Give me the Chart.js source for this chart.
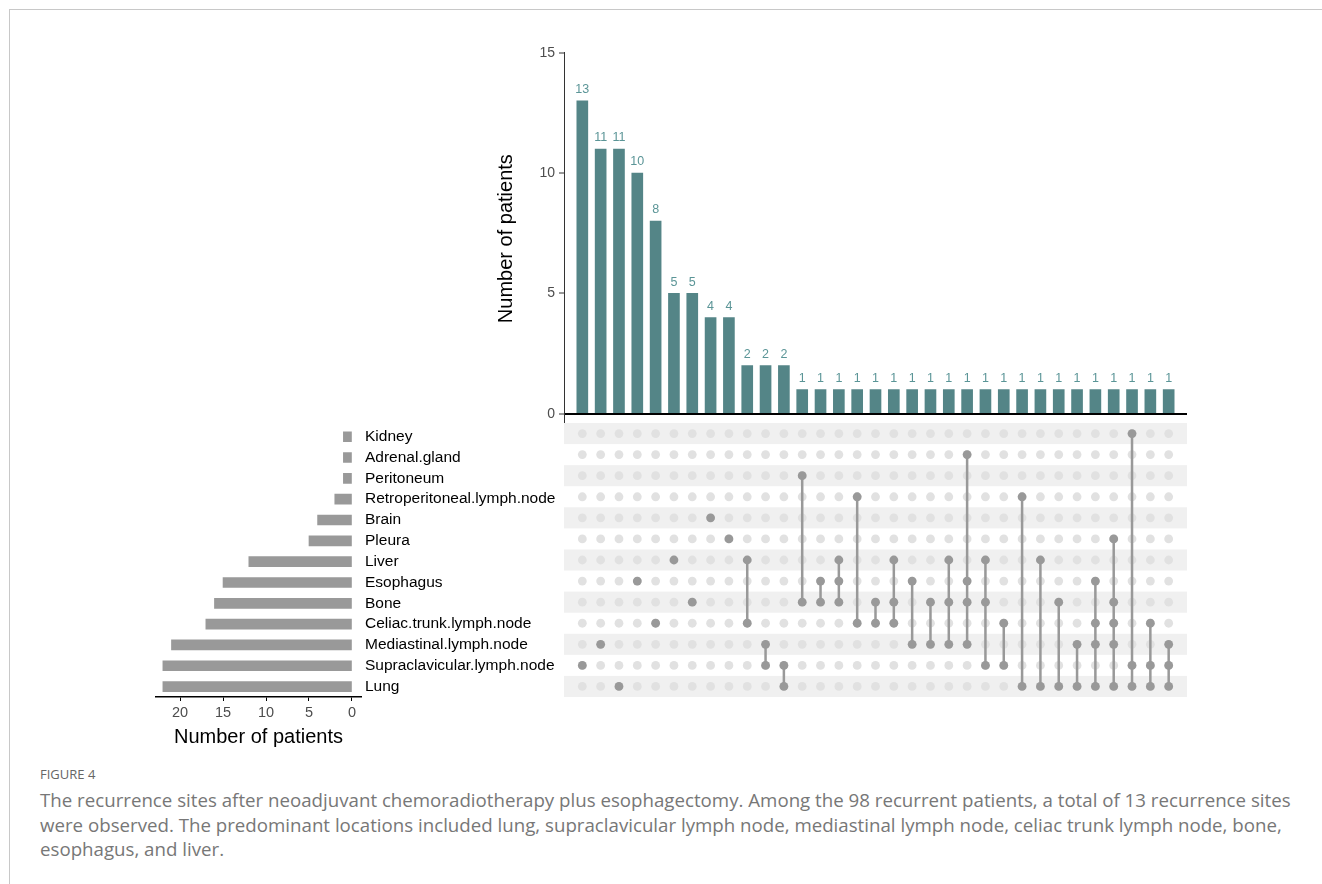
<!DOCTYPE html>
<html>
<head>
<meta charset="utf-8">
<script src="https://cdn.jsdelivr.net/npm/chart.js@4.4.1/dist/chart.umd.min.js"></script>
<style>
  body { margin: 0; background: #fff; width: 1322px; height: 884px; overflow: hidden; position: relative; font-family: "Liberation Sans", Arial, sans-serif; }
  .frame { position: absolute; left: 9px; top: 9px; width: 1400px; height: 1000px; border-left: 1px solid #c8c8c8; border-top: 1px solid #c8c8c8; }
  .box { position: absolute; }
  #figlabel { position: absolute; left: 40px; top: 765px; font-family: "Open Sans", Lato, sans-serif; font-size: 13px; color: #666; }
  #caption { position: absolute; left: 40px; top: 788px; font-family: "Open Sans", Lato, sans-serif; font-size: 18.7px; line-height: 24.5px; color: #777; white-space: nowrap; }
</style>
</head>
<body>
<div class="frame"></div>
<div class="box" style="left:490px;top:20px"><canvas id="topChart" width="700" height="417"></canvas></div>
<div class="box" style="left:564px;top:423px"><canvas id="matrixChart" width="623" height="274"></canvas></div>
<div class="box" style="left:150px;top:413px"><canvas id="setChart" width="410" height="340"></canvas></div>
<div id="figlabel">FIGURE 4</div>
<div id="caption">
  <div>The recurrence sites after neoadjuvant chemoradiotherapy plus esophagectomy. Among the 98 recurrent patients, a total of 13 recurrence sites</div>
  <div>were observed. The predominant locations included lung, supraclavicular lymph node, mediastinal lymph node, celiac trunk lymph node, bone,</div>
  <div>esophagus, and liver.</div>
</div>
<script>
// sets, top to bottom as in the matrix
const setNames = ['Kidney', 'Adrenal.gland', 'Peritoneum', 'Retroperitoneal.lymph.node', 'Brain', 'Pleura', 'Liver',
    'Esophagus', 'Bone', 'Celiac.trunk.lymph.node', 'Mediastinal.lymph.node', 'Supraclavicular.lymph.node', 'Lung'];
const setSizes = [1, 1, 1, 2, 4, 5, 12, 15, 16, 17, 21, 22, 22];

// intersections, left to right
const comboCounts = [13, 11, 11, 10, 8, 5, 5, 4, 4, 2, 2, 2,
    1, 1, 1, 1, 1, 1, 1, 1, 1, 1, 1, 1, 1, 1, 1, 1, 1, 1, 1, 1, 1];
const comboSets = [
    ['Supraclavicular.lymph.node'],
    ['Mediastinal.lymph.node'],
    ['Lung'],
    ['Esophagus'],
    ['Celiac.trunk.lymph.node'],
    ['Liver'],
    ['Bone'],
    ['Brain'],
    ['Pleura'],
    ['Liver', 'Celiac.trunk.lymph.node'],
    ['Mediastinal.lymph.node', 'Supraclavicular.lymph.node'],
    ['Supraclavicular.lymph.node', 'Lung'],
    ['Peritoneum', 'Bone'],
    ['Esophagus', 'Bone'],
    ['Liver', 'Esophagus', 'Bone'],
    ['Retroperitoneal.lymph.node', 'Celiac.trunk.lymph.node'],
    ['Bone', 'Celiac.trunk.lymph.node'],
    ['Liver', 'Bone', 'Celiac.trunk.lymph.node'],
    ['Esophagus', 'Mediastinal.lymph.node'],
    ['Bone', 'Mediastinal.lymph.node'],
    ['Liver', 'Bone', 'Mediastinal.lymph.node'],
    ['Adrenal.gland', 'Esophagus', 'Bone', 'Mediastinal.lymph.node'],
    ['Liver', 'Bone', 'Supraclavicular.lymph.node'],
    ['Celiac.trunk.lymph.node', 'Supraclavicular.lymph.node'],
    ['Retroperitoneal.lymph.node', 'Lung'],
    ['Liver', 'Lung'],
    ['Bone', 'Lung'],
    ['Mediastinal.lymph.node', 'Lung'],
    ['Esophagus', 'Celiac.trunk.lymph.node', 'Mediastinal.lymph.node', 'Lung'],
    ['Pleura', 'Bone', 'Celiac.trunk.lymph.node', 'Mediastinal.lymph.node', 'Lung'],
    ['Kidney', 'Supraclavicular.lymph.node', 'Lung'],
    ['Celiac.trunk.lymph.node', 'Supraclavicular.lymph.node', 'Lung'],
    ['Mediastinal.lymph.node', 'Supraclavicular.lymph.node', 'Lung']
];

const topTicks = [0, 5, 10, 15];
const setTicks = [0, 5, 10, 15, 20];

const TEAL = '#548587';
const GREY = '#999999';
const TICK_GREY = '#4d4d4d';

Chart.defaults.font.family = '"Liberation Sans", Arial, sans-serif';
Chart.defaults.animation = false;
Chart.defaults.events = [];
Chart.defaults.plugins.legend.display = false;
Chart.defaults.plugins.tooltip.enabled = false;

// numbers above the intersection bars
const barLabels = {
    id: 'barLabels',
    afterDatasetsDraw(chart) {
        const ctx = chart.ctx;
        const meta = chart.getDatasetMeta(0);
        ctx.save();
        ctx.fillStyle = '#5b9597';
        ctx.font = '12.5px "Liberation Sans", Arial, sans-serif';
        ctx.textAlign = 'center';
        ctx.textBaseline = 'bottom';
        meta.data.forEach((el, i) => {
            ctx.fillText(comboCounts[i], el.x, el.y - 5);
        });
        ctx.restore();
    }
};

// alternating row bands behind the dot matrix
const rowBands = {
    id: 'rowBands',
    beforeDatasetsDraw(chart) {
        const { ctx, chartArea, scales } = chart;
        ctx.save();
        ctx.fillStyle = '#f0f0f0';
        setNames.forEach((name, r) => {
            if (r % 2 !== 0) return;
            const y0 = scales.y.getPixelForValue(r - 0.5);
            const y1 = scales.y.getPixelForValue(r + 0.5);
            ctx.fillRect(chartArea.left, y0, chartArea.right - chartArea.left, y1 - y0);
        });
        ctx.restore();
    }
};

new Chart(document.getElementById('topChart'), {
    type: 'bar',
    data: {
        datasets: [{
            data: comboCounts.map((v, i) => ({ x: i, y: v })),
            backgroundColor: TEAL,
            barThickness: 11
        }]
    },
    options: {
        responsive: false,
        devicePixelRatio: 1,
        layout: { autoPadding: false, padding: { top: 32.7, right: 3, left: 0, bottom: 0 } },
        scales: {
            x: { type: 'linear', min: -1, max: 33, offset: false, display: false },
            y: {
                min: -0.45,
                max: 15,
                afterBuildTicks: s => { s.ticks = topTicks.map(v => ({ value: v })); },
                afterFit: s => { s.width = 74; },
                ticks: { color: TICK_GREY, font: { size: 14 }, padding: 4 },
                grid: {
                    color: c => (c.tick && c.tick.value === 0) ? '#000' : 'rgba(0,0,0,0)',
                    lineWidth: 2,
                    tickColor: '#333',
                    tickWidth: 1,
                    tickLength: 5
                },
                border: { color: '#333', width: 1 },
                title: { display: true, text: 'Number of patients', color: '#000', font: { size: 20 } }
            }
        }
    },
    plugins: [barLabels]
});

// dot matrix
const allDots = [];
const onDots = [];
const links = [];
comboSets.forEach((sets, i) => {
    setNames.forEach((name, r) => allDots.push({ x: i, y: r }));
    const rows = sets.map(s => setNames.indexOf(s));
    rows.forEach(r => onDots.push({ x: i, y: r }));
    if (rows.length > 1) {
        links.push({ x: i, y: Math.min(...rows) });
        links.push({ x: i, y: Math.max(...rows) });
        links.push({ x: i, y: null });
    }
});

new Chart(document.getElementById('matrixChart'), {
    type: 'scatter',
    data: {
        datasets: [
            { data: onDots, backgroundColor: GREY, borderWidth: 0, pointRadius: 4.4, order: 1 },
            { data: links, showLine: true, spanGaps: false, borderColor: GREY, borderWidth: 2.5, pointRadius: 0, order: 2 },
            { data: allDots, backgroundColor: '#e1e1e1', borderWidth: 0, pointRadius: 4.4, order: 3 }
        ]
    },
    options: {
        responsive: false,
        devicePixelRatio: 1,
        layout: { autoPadding: false, padding: 0 },
        scales: {
            x: { type: 'linear', min: -1, max: 33, display: false },
            y: { type: 'linear', min: -0.5, max: 12.5, reverse: true, display: false }
        }
    },
    plugins: [rowBands]
});

// set size bars
new Chart(document.getElementById('setChart'), {
    type: 'bar',
    data: {
        labels: setNames,
        datasets: [{
            data: setSizes,
            backgroundColor: GREY,
            barThickness: 10
        }]
    },
    options: {
        indexAxis: 'y',
        responsive: false,
        devicePixelRatio: 1,
        layout: { autoPadding: false, padding: { left: 6, top: 10, right: 0, bottom: 0 } },
        scales: {
            y: {
                type: 'category',
                position: 'right',
                afterFit: s => { s.width = 199; },
                grid: { display: false, drawTicks: false },
                border: { display: false },
                ticks: { color: '#000', font: { size: 15.5 }, padding: 4, autoSkip: false }
            },
            x: {
                type: 'linear',
                reverse: true,
                min: -1.05,
                max: 22.8,
                afterBuildTicks: s => { s.ticks = setTicks.map(v => ({ value: v })); },
                afterFit: s => { s.height = 56; },
                ticks: { color: TICK_GREY, font: { size: 14.5 }, padding: 3 },
                grid: { drawOnChartArea: false, tickLength: 4, tickColor: '#000' },
                border: { color: '#000', width: 1.5 },
                title: { display: true, text: 'Number of patients', color: '#000', font: { size: 20 } }
            }
        }
    }
});
</script>
</body>
</html>
